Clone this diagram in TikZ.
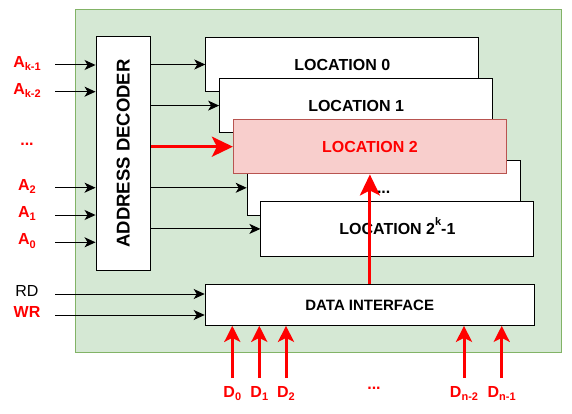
\documentclass[tikz,border=0pt]{standalone}
\usepackage{fontspec}
\setmainfont{Liberation Sans}
\usetikzlibrary{arrows.meta,positioning}
\definecolor{panelfill}{HTML}{D5E8D4}
\definecolor{panelline}{HTML}{82B366}
\definecolor{hotfill}{HTML}{F8CECC}
\definecolor{hotline}{HTML}{B85450}
\definecolor{sigred}{HTML}{FF0000}
\newcommand{\lowtxt}[1]{\raisebox{-0.2em}{\fontsize{11}{11}\selectfont #1}}
\newcommand{\hightxt}[1]{\raisebox{0.55em}{\fontsize{11}{11}\selectfont #1}}
\tikzset{
  locbox/.style={draw,fill=white,line width=1pt,minimum width=273pt,minimum height=54.5pt,
    inner sep=0pt,text height=11.4pt,text depth=0pt,font=\bfseries\fontsize{16}{19}\selectfont},
  hotbox/.style={locbox,fill=hotfill,draw=hotline,text=sigred},
  decbox/.style={draw,fill=white,line width=1pt,minimum width=54.5pt,minimum height=233pt,inner sep=0pt},
  ifbox/.style={draw,fill=white,line width=1pt,minimum width=329pt,minimum height=41.3pt,
    inner sep=0pt,text height=11.4pt,text depth=0pt,font=\bfseries\fontsize{15}{18}\selectfont},
  sig/.style={anchor=mid,text=sigred,font=\bfseries\fontsize{16}{19}\selectfont},
  plainsig/.style={anchor=mid,font=\fontsize{16}{19}\selectfont},
  wire/.style={->,line width=1pt},
  hotwire/.style={line width=3pt,sigred,-{Stealth[length=21pt,width=20pt,inset=5pt]}},
  dwire/.style={line width=3pt,sigred,-{Stealth[length=16pt,width=16pt,inset=4pt]}}
}

\begin{document}
\begin{tikzpicture}[x=1pt,y=-1pt,>={Stealth[length=11pt,width=10pt,inset=3pt]}]
  \useasboundingbox (0,0) rectangle (572,414);
  \filldraw[fill=panelfill,draw=panelline,line width=1pt] (75,9.5) rectangle (561.7,352.3);

  % memory locations, stacked
  \node[locbox] (loc0) at (342.3,64.5) {LOCATION 0};
  \node[locbox] (loc1) at (356.1,105.6) {LOCATION 1};
  \node[locbox] (locd) at (383.7,187.8) {...};
  \node[locbox] (lock) at (397.4,228.9) {LOCATION 2\hightxt{k}-1};
  \node[hotbox] (loc2) at (369.9,146.7) {LOCATION 2};

  \node[decbox] (dec) at (123.3,153.5) {};
  \node[rotate=90,font=\bfseries\fontsize{18.5}{22}\selectfont] (dectxt) at (dec.center) {ADDRESS DECODER};
  \node[ifbox] (di) at (369.7,304.7) {DATA INTERFACE};

  % address lines
  \coordinate (ak1) at (55,65);
  \coordinate (ak2) at (55,91.7);
  \coordinate (a2) at (55,187.7);
  \coordinate (a1) at (55,215);
  \coordinate (a0) at (55,242.3);
  \node[sig] (lak1) at (27,65) {A\lowtxt{k-1}};
  \node[sig] (lak2) at (27,91.7) {A\lowtxt{k-2}};
  \node[sig,anchor=base] (ladots) at (27,146) {...};
  \node[sig] (la2) at (27,187.7) {A\lowtxt{2}};
  \node[sig] (la1) at (27,215) {A\lowtxt{1}};
  \node[sig] (la0) at (27,242.3) {A\lowtxt{0}};
  \draw[wire] (ak1) -- (ak1 -| dec.west);
  \draw[wire] (ak2) -- (ak2 -| dec.west);
  \draw[wire] (a2) -- (a2 -| dec.west);
  \draw[wire] (a1) -- (a1 -| dec.west);
  \draw[wire] (a0) -- (a0 -| dec.west);

  % decoder outputs
  \draw[wire] (dec.east |- loc0.west) -- (loc0.west);
  \draw[wire] (dec.east |- loc1.west) -- (loc1.west);
  \draw[wire] (dec.east |- locd.west) -- (locd.west);
  \draw[wire] (dec.east |- lock.west) -- (lock.west);
  \draw[hotwire] (dec.east |- loc2.west) -- (loc2.west);
  \draw[hotwire] (di.north -| loc2.south) -- (loc2.south);

  % control lines
  \coordinate (rd) at (55,294);
  \coordinate (wr) at (55,315);
  \node[plainsig] (lrd) at (27,294) {RD};
  \node[sig] (lwr) at (27,315) {WR};
  \draw[wire] (rd) -- (rd -| di.west);
  \draw[wire] (wr) -- (wr -| di.west);

  % data lines
  \coordinate (d0) at (232.3,378);
  \coordinate (d1) at (259.3,378);
  \coordinate (d2) at (286,378);
  \coordinate (dn2) at (464,378);
  \coordinate (dn1) at (501.7,378);
  \node[sig] (ld0) at (d0 |- 0,395) {D\lowtxt{0}};
  \node[sig] (ld1) at (d1 |- 0,395) {D\lowtxt{1}};
  \node[sig] (ld2) at (d2 |- 0,395) {D\lowtxt{2}};
  \node[sig,anchor=base] (lddots) at (374,389) {...};
  \node[sig] (ldn2) at (dn2 |- 0,395) {D\lowtxt{n-2}};
  \node[sig] (ldn1) at (dn1 |- 0,395) {D\lowtxt{n-1}};
  \draw[dwire] (d0) -- (d0 |- di.south);
  \draw[dwire] (d1) -- (d1 |- di.south);
  \draw[dwire] (d2) -- (d2 |- di.south);
  \draw[dwire] (dn2) -- (dn2 |- di.south);
  \draw[dwire] (dn1) -- (dn1 |- di.south);
\end{tikzpicture}
\end{document}
